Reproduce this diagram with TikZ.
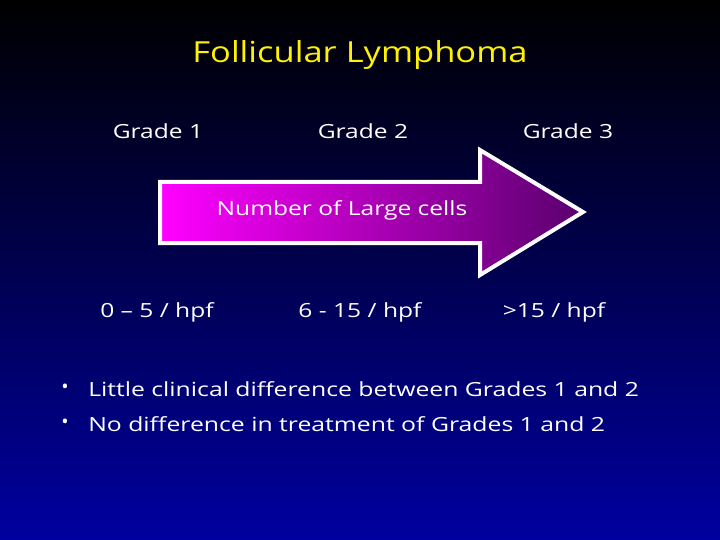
\documentclass[tikz,border=0pt]{standalone}
\usepackage{fontspec}
\setmainfont{Open Sans}
\begin{document}
\begin{tikzpicture}[x=1pt,y=-1pt,
  lbl/.style={text=white,font=\fontsize{19.5}{22}\selectfont,inner sep=0pt,xscale=1.26},
  blt/.style={text=white,font=\fontsize{19.5}{22}\selectfont,inner sep=0pt,anchor=west,xscale=1.27}]
\shade[top color=black,bottom color={rgb,255:red,0;green,0;blue,160}] (0,0) rectangle (720,540);
\useasboundingbox (0,0) rectangle (720,540);
\node[text=yellow,font=\fontsize{29}{34}\selectfont,inner sep=0pt,xscale=1.19] (title) at (360,55) {Follicular Lymphoma};
\node[lbl] (g1) at (158,131) {Grade 1};
\node[lbl] (g2) at (363,131) {Grade 2};
\node[lbl] (g3) at (568,131) {Grade 3};
\shade[left color={rgb,255:red,255;green,0;blue,255},right color={rgb,255:red,90;green,0;blue,110},draw=white,line width=4pt,line join=miter]
 (160,182) -- (480,182) -- (480,150) -- (583,212) -- (480,275) -- (480,243) -- (160,243) -- cycle;
\node[lbl] (nl) at (342,210) {Number of Large cells};
\node[lbl] (c1) at (157,312) {0 – 5 / hpf};
\node[lbl] (c2) at (360,312) {6 - 15 / hpf};
\node[lbl] (c3) at (554,312) {>15 / hpf};
\node[text=white,inner sep=0pt,font=\fontsize{19.5}{22}\selectfont] (d1) at (65,389) {•};
\node[text=white,inner sep=0pt,font=\fontsize{19.5}{22}\selectfont] (d2) at (65,424) {•};
\node[blt] (b1) at (88,389) {Little clinical difference between Grades 1 and 2};
\node[blt] (b2) at (88,424) {No difference in treatment of Grades 1 and 2};
\end{tikzpicture}
\end{document}
